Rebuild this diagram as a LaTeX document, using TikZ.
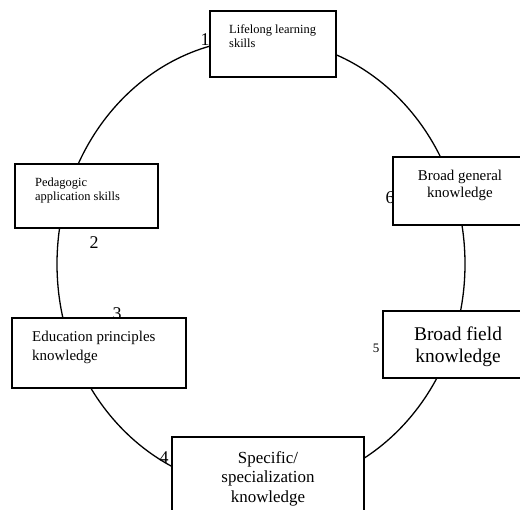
\documentclass[tikz,border=0pt]{standalone}
\usepackage{fontspec}
\setmainfont{Liberation Serif}
\usetikzlibrary{positioning}
\tikzset{
    ring/.style = {line width=1.3bp},
    cyclebox/.style = {rectangle, draw=black, fill=white, line width=1.5bp, inner sep=0pt, outer sep=0pt, anchor=north west},
    boxtext/.style = {inner sep=0pt, align=left},
    midtext/.style = {inner sep=0pt, align=center},
    stepnum/.style = {inner sep=0pt, font=\fontsize{18}{18}\selectfont}
}

\begin{document}
\begin{tikzpicture}[x=1bp, y=-1bp]
    \useasboundingbox (0,0) rectangle (520,510);

    % the cycle
    \draw[ring] (261,264) ellipse [x radius=204bp, y radius=225bp];

    % step numbers (boxes are drawn over them)
    \node[stepnum] (num1) at (205,40) {1};
    \node[stepnum] (num2) at (94,243) {2};
    \node[stepnum] (num3) at (117,314) {3};
    \node[stepnum] (num4) at (164,458) {4};
    \node[stepnum, font=\fontsize{13}{13}\selectfont] (num5) at (376,348) {5};
    \node[stepnum] (num6) at (390,198) {6};

    % boxes
    \node[cyclebox, minimum width=126bp, minimum height=66bp] (lifebox) at (210,11) {};
    \node[boxtext, font=\fontsize{12.5}{14}\selectfont, below right=13.5bp and 19bp of lifebox.north west] (lifetext) {Lifelong learning\\skills};

    \node[cyclebox, minimum width=143bp, minimum height=64bp] (pedabox) at (15,164) {};
    \node[boxtext, font=\fontsize{12.5}{14.5}\selectfont, below right=13.5bp and 20bp of pedabox.north west] (pedatext) {Pedagogic\\application skills};

    \node[cyclebox, minimum width=174bp, minimum height=70bp] (educbox) at (12,318) {};
    \node[boxtext, font=\fontsize{15}{18.5}\selectfont, below right=13bp and 20bp of educbox.north west] (eductext) {Education principles\\knowledge};

    \node[cyclebox, minimum width=192bp, minimum height=84bp] (specbox) at (172,437) {};
    \node[midtext, font=\fontsize{17}{19.3}\selectfont, below=14.5bp of specbox.north] (spectext) {Specific/\\specialization\\knowledge};

    \node[cyclebox, minimum width=150bp, minimum height=67bp] (fieldbox) at (383,311) {};
    \node[midtext, font=\fontsize{19.5}{22}\selectfont, below=16bp of fieldbox.north] (fieldtext) {Broad field\\knowledge};

    \node[cyclebox, minimum width=134bp, minimum height=68bp] (genbox) at (393,157) {};
    \node[midtext, font=\fontsize{15}{17}\selectfont, below=13bp of genbox.north] (gentext) {Broad general\\knowledge};
\end{tikzpicture}
\end{document}
